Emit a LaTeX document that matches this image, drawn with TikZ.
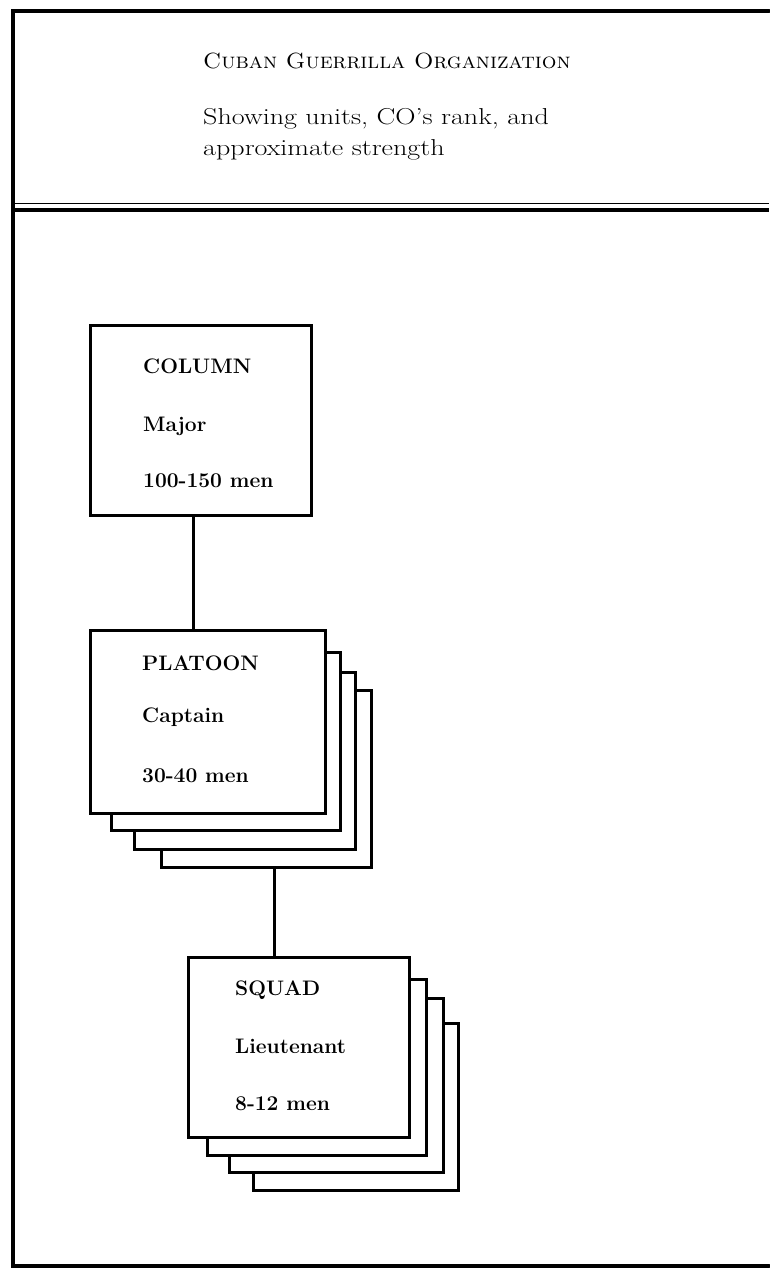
\documentclass[tikz,border=0pt]{standalone}
\usepackage{graphicx}
\begin{document}
\begin{tikzpicture}[x=1pt,y=-1pt]
\tikzset{
  frame/.style={line width=4pt, line cap=round},
  box/.style={draw, fill=white, line width=3pt, inner sep=0pt, outer sep=0pt, anchor=north west},
  conn/.style={line width=3pt},
  lbl/.style={anchor=base west, inner sep=0pt, font=\fontsize{21}{24}\selectfont\bfseries},
  hdr/.style={anchor=base west, inner sep=0pt}
}
\useasboundingbox (0,0) rectangle (769,1270);
% outer frame (open on the right)
\draw[frame] (769,11) -- (13,11) -- (13,1266) -- (769,1266);
% header separator (double rule)
\draw[line width=1.4pt] (13,203.5) -- (769,203.5);
\draw[line width=4pt] (13,209.5) -- (769,209.5);
% header text
\node[hdr] (title) at (203,68) {\scalebox{1.05}[1]{\fontsize{22}{26}\selectfont\scshape Cuban Guerrilla Organization}};
\node[hdr] (sub1) at (203,124) {\scalebox{1.22}[1]{\fontsize{23}{26}\selectfont Showing units, CO's rank, and}};
\node[hdr] (sub2) at (203,155) {\scalebox{1.22}[1]{\fontsize{23}{26}\selectfont approximate strength}};
% column
\node[box, minimum width=221pt, minimum height=190pt] (col) at (90,325) {};
% platoon stack
\node[box, minimum width=210pt, minimum height=177pt] (pl4) at (161,690) {};
\node[box, minimum width=221pt, minimum height=177pt] (pl3) at (134,672) {};
\node[box, minimum width=229pt, minimum height=178pt] (pl2) at (111,652) {};
\node[box, minimum width=235pt, minimum height=183pt] (pla) at (90,630) {};
% squad stack
\node[box, minimum width=205pt, minimum height=167pt] (sq4) at (253,1023) {};
\node[box, minimum width=214pt, minimum height=174pt] (sq3) at (229,998) {};
\node[box, minimum width=219pt, minimum height=176pt] (sq2) at (207,979) {};
\node[box, minimum width=221pt, minimum height=180pt] (sq) at (188,957) {};
% connectors
\coordinate (c1) at (193,0);
\coordinate (c2) at (274,0);
\draw[conn] (c1 |- col.south) -- (c1 |- pla.north);
\draw[conn] (c2 |- pl4.south) -- (c2 |- sq.north);
% labels
\node[lbl] (t1) at (143,373) {COLUMN};
\node[lbl] (t2) at (143,431) {Major};
\node[lbl] (t3) at (143,487) {100-150 men};
\node[lbl] (t4) at (142,670) {PLATOON};
\node[lbl] (t5) at (142,722) {Captain};
\node[lbl] (t6) at (142,782) {30-40 men};
\node[lbl] (t7) at (235,995) {SQUAD};
\node[lbl] (t8) at (235,1053) {Lieutenant};
\node[lbl] (t9) at (235,1110) {8-12 men};
\end{tikzpicture}
\end{document}
